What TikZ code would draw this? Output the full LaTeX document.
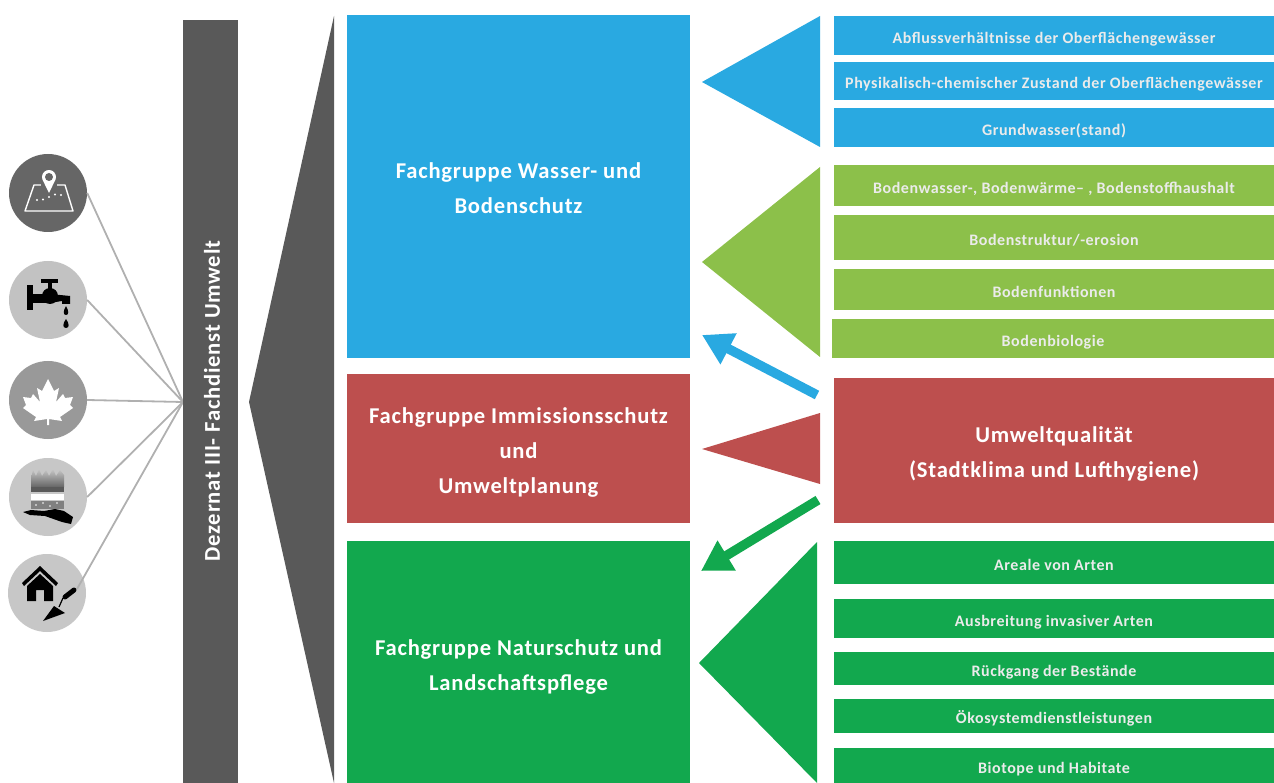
\documentclass[tikz,border=0pt]{standalone}
\usepackage{fontspec}
\usepackage{xcolor}
\usepackage{tikz}
\usetikzlibrary{arrows.meta}
\setmainfont{Carlito}
\newfontfamily\barfont[LetterSpace=3.5]{Carlito}
\definecolor{wasserblue}{HTML}{29A9E1}
\definecolor{bodengreen}{HTML}{8CC04A}
\definecolor{luftred}{HTML}{BD4F4E}
\definecolor{naturgreen}{HTML}{12A84E}
\definecolor{darkband}{HTML}{595959}
\definecolor{linkgray}{HTML}{B0B0B0}
\tikzset{
  bigbox/.style={inner sep=0pt, minimum width=343pt},
  bigtext/.style={inner sep=0pt, text=white, align=center,
    font=\barfont\fontsize{22.6}{35}\selectfont\bfseries},
  smallbar/.style={inner sep=0pt, minimum width=440pt, text=white!92!black, align=center,
    text height=15.5pt, text depth=0pt,
    font=\barfont\fontsize{16}{18}\selectfont\bfseries},
  iconball/.style={circle, inner sep=0pt, minimum size=78pt},
  link/.style={draw=linkgray, line width=1.8pt},
  bigarrow/.style={line width=9.5pt, -{Triangle[length=30pt,width=33pt]}}
}
\begin{document}
\begin{tikzpicture}[x=1pt,y=-1pt]
\useasboundingbox (0,0) rectangle (1274,783);

% left column
\node[iconball, fill=black!60] (map) at (48,193) {};
\node[iconball, fill=black!24] (tap) at (48,300) {};
\node[iconball, fill=black!40] (leaf) at (48,400) {};
\node[iconball, fill=black!22] (soil) at (48,497) {};
\node[iconball, fill=black!22] (house) at (47,593) {};
\coordinate (hub) at (183,402);
\coordinate (trowel) at (77,589);
\draw[link] (map.east) -- (hub);
\draw[link] (tap.east) -- (hub);
\draw[link] (leaf.east) -- (hub);
\draw[link] (soil.east) -- (hub);
\draw[link] (trowel) -- (hub);

% map icon
\draw[white, line width=1.4pt, line join=round] (34,185) -- (25,211) -- (73,211) -- (65,185) -- cycle;
\fill[black!60] (41,183) rectangle (57,188);
\fill[white] (49,193) -- (42.4,179.4) arc (160:380:7) -- cycle;
\fill[black!60] (49,177) circle (4);
\fill[white] (37,200) circle (1.2) (43,199.5) circle (1.2) (49,197) circle (1.2) (55,194.5) circle (1.2) (61,195) circle (1.2);

% tap icon
\fill[black] (27,285) rectangle (33,310);
\fill[black] (33,294) rectangle (50,303);
\fill[black] (50,296) circle (8);
\fill[black] (48,282) rectangle (52,290);
\fill[black] (41,279) rectangle (58,283);
\fill[black] (50,294) -- (70,296) -- (70,304) -- (62,304) -- (62,301) -- (50,303) -- cycle;
\fill[black] (66,306) .. controls (63,311) and (63,315) .. (66,315) .. controls (69,315) and (69,311) .. (66,306);
\fill[black] (66,319) .. controls (63,323) and (62,328) .. (66,328) .. controls (70,328) and (69,323) .. (66,319);

% leaf icon
\fill[white] (48,379) -- (42,391) -- (37,388) -- (40,402) -- (33,394) -- (31,398) -- (23,397) -- (26,405)
  -- (23,408) -- (36,417) -- (34,421) -- (47,419) -- (47,425) -- (49,425) -- (49,419) -- (62,421)
  -- (60,417) -- (73,408) -- (70,405) -- (73,397) -- (65,398) -- (63,394) -- (56,402) -- (59,388)
  -- (54,391) -- cycle;

% soil icon
\shade[top color=black!22, bottom color=black!60] (31,478) -- (33,470) -- (36,476) -- (39,469) -- (42,476) -- (46,470) -- (49,476)
  -- (53,469) -- (56,476) -- (60,470) -- (64,475) -- (64,487) -- (31,487) -- cycle;
\fill[black!65] (31,487) rectangle (64,492);
\fill[white] (31,494) rectangle (64,500);
\fill[black!50] (31,501) rectangle (64,509);
\fill[white] (36,505) circle (0.8) (43,503) circle (0.8) (50,506) circle (0.8) (57,503) circle (0.8);
\fill[black] (23,512) -- (31,510) -- (44,511) -- (55,509) -- (64,511) -- (73,517) -- (71,524) -- (62,522) -- (45,516) -- (30,515) -- cycle;

% house icon
\fill[black] (22,583) -- (40,566) -- (58,583) -- (56,586) -- (40,571) -- (24,586) -- cycle;
\fill[black] (40,574) -- (53,586) -- (53,601) -- (44,601) -- (44,590) -- (36,590) -- (36,601) -- (27,601) -- (27,586) -- cycle;
\draw[black, line width=5pt, line cap=round] (65,597) -- (74,590);
\draw[black, line width=1.2pt] (63,598) -- (59,607);
\fill[black] (43,621) -- (54,606) -- (65,613) -- cycle;

% dezernat band
\node[fill=darkband, minimum width=55pt, minimum height=763pt, inner sep=0pt] (band) at (210.5,401.5) {};
\node[rotate=90, text=white, font=\barfont\fontsize{22.6}{24}\selectfont\bfseries] (bandtext) at (212,401) {Dezernat III- Fachdienst Umwelt};
\fill[darkband] (334,16) -- (334,783) -- (249,402) -- cycle;

% fachgruppen
\node[bigbox, fill=wasserblue, minimum height=343pt] (wasser) at (518.5,186.5) {};
\node[bigbox, fill=luftred, minimum height=149pt] (immission) at (518.5,448.5) {};
\node[bigbox, fill=naturgreen, minimum height=242pt] (natur) at (518.5,662) {};
\node[bigtext] (wassertext) at (518.5,188.5) {Fachgruppe Wasser- und\\Bodenschutz};
\node[bigtext] (immissiontext) at (518.5,452) {Fachgruppe Immissionsschutz\\und\\Umweltplanung};
\node[bigtext] (naturtext) at (518.5,667) {Fachgruppe Naturschutz und\\Landschaftspflege};

% triangles
\fill[wasserblue] (820,16) -- (820,147) -- (702,82) -- cycle;
\fill[bodengreen] (820,167) -- (820,357) -- (702,262) -- cycle;
\fill[luftred] (820,413) -- (820,484) -- (702,449) -- cycle;
\fill[naturgreen] (817,542) -- (817,783) -- (699,663) -- cycle;

% right column
\node[smallbar, fill=wasserblue, minimum height=39pt] (abfluss) at (1054,35.5) {Abflussverhältnisse der Oberflächengewässer};
\node[smallbar, fill=wasserblue, minimum height=38pt] (zustand) at (1054,81) {Physikalisch-chemischer Zustand der Oberflächengewässer};
\node[smallbar, fill=wasserblue, minimum height=39pt] (grund) at (1054,127.5) {Grundwasser(stand)};
\node[smallbar, fill=bodengreen, minimum height=41pt] (haushalt) at (1054,185.5) {Bodenwasser-, Bodenwärme– , Bodenstoffhaushalt};
\node[smallbar, fill=bodengreen, minimum height=45pt] (struktur) at (1054,237.5) {Bodenstruktur/-erosion};
\node[smallbar, fill=bodengreen, minimum height=41pt] (funktion) at (1054,289.5) {Bodenfunktionen};
\node[smallbar, fill=bodengreen, minimum height=39pt, minimum width=442pt] (biologie) at (1053,338.5) {Bodenbiologie};
\node[bigbox, fill=luftred, minimum width=440pt, minimum height=145pt] (umwelt) at (1054,450.5) {};
\node[bigtext] (umwelttext) at (1054,454) {Umweltqualität\\(Stadtklima und Lufthygiene)};
\node[smallbar, fill=naturgreen, minimum height=43pt] (areale) at (1054,562.5) {Areale von Arten};
\node[smallbar, fill=naturgreen, minimum height=39pt] (ausbreitung) at (1054,618.5) {Ausbreitung invasiver Arten};
\node[smallbar, fill=naturgreen, minimum height=33pt] (rueckgang) at (1054,668.5) {Rückgang der Bestände};
\node[smallbar, fill=naturgreen, minimum height=34pt] (oeko) at (1054,716) {Ökosystemdienstleistungen};
\node[smallbar, fill=naturgreen, minimum height=35pt] (biotope) at (1054,765.5) {Biotope und Habitate};

% arrows out of umweltqualitaet
\coordinate (bluestart) at (817,395);
\coordinate (blueend) at (702,335);
\coordinate (greenstart) at (818,500);
\coordinate (greenend) at (701,571);
\draw[bigarrow, wasserblue] (bluestart) -- (blueend);
\draw[bigarrow, naturgreen] (greenstart) -- (greenend);
\end{tikzpicture}
\end{document}
